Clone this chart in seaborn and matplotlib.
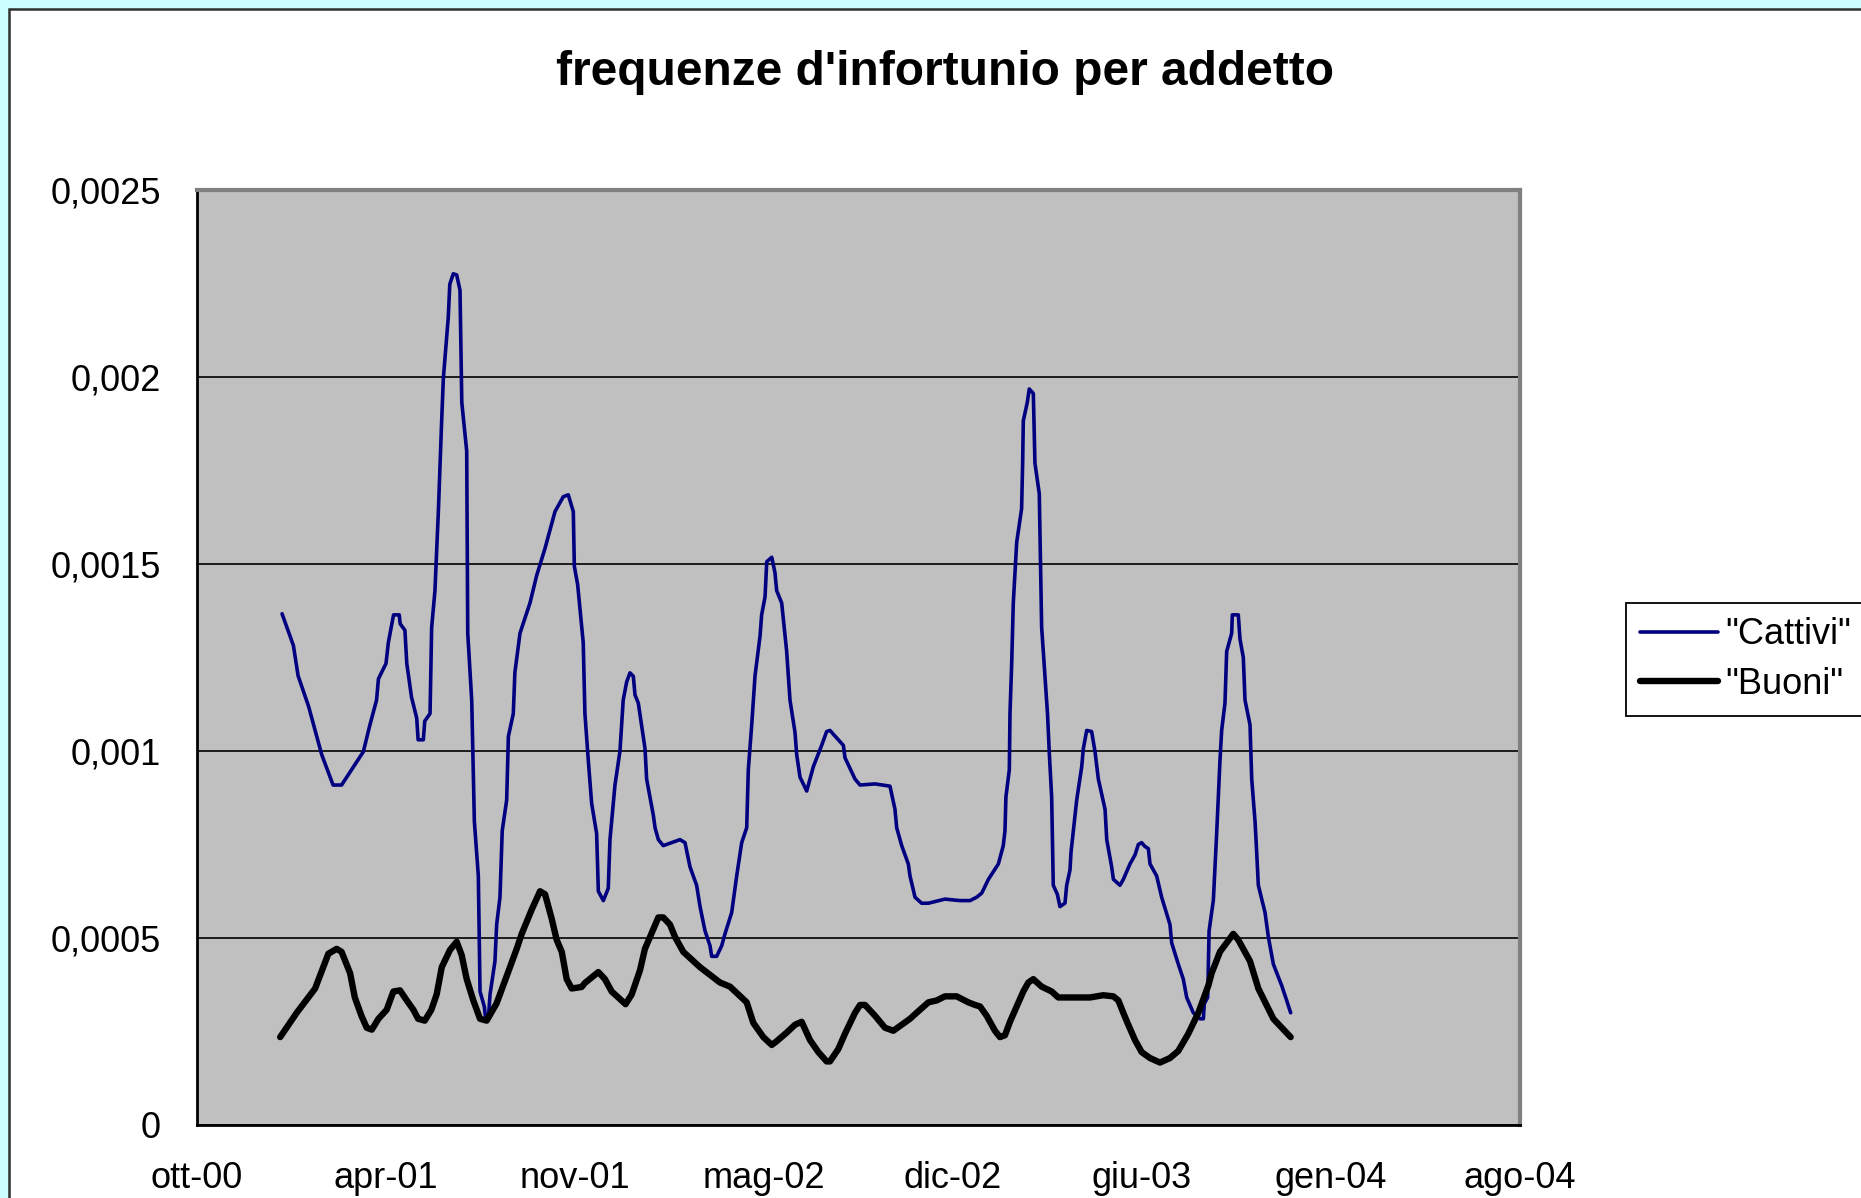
import numpy as np
import pandas as pd
import matplotlib
matplotlib.use("Agg")
import matplotlib.pyplot as plt
import matplotlib.dates as mdates
from matplotlib.patches import Rectangle
import seaborn as sns

# ---------------- data ----------------
titolo = "frequenze d'infortunio per addetto"
data_origine = "2000-10-01"          # left end of the date axis
serie_nomi = ['"Cattivi"', '"Buoni"']

# days after data_origine, and values
cattivi_giorni = [90, 102, 107, 118, 132, 144, 153, 176, 183, 190, 192, 200, 202.5, 208, 214, 215,
                  220, 222, 227, 232.5, 234, 239.5, 241, 246.6, 248.3, 251.8, 255.4, 258.9, 260.7,
                  265.9, 267.5, 271.2, 274.8, 278.3, 279.4, 280.2, 285.4, 286.5, 290.7, 293.5, 297.7,
                  299.5, 304, 305.5, 308.3, 310.1, 315.3, 317.1, 320.6, 323, 327.7, 329.5, 334.7,
                  336.4, 341.8, 352.4, 359.4, 368.3, 373.5, 378.8, 387.6, 392.9, 398.2, 399.3, 402.8,
                  408.7, 410.5, 414.1, 417.6, 422.9, 424.7, 430, 435.2, 437, 442.3, 447.6, 451,
                  454.7, 458.2, 461.7, 463.5, 467, 474.1, 475.8, 482.9, 484.7, 488.2, 493.4, 511.1,
                  516.4, 521.7, 528.7, 532.3, 537.6, 542.9, 544.6, 549.9, 555.2, 558.7, 565.8, 571.1,
                  576.4, 581.7, 583.4, 587, 590.5, 595.8, 597.5, 601.1, 602.9, 608.2, 611.6, 613.4,
                  618.7, 624, 627.5, 632.8, 634.6, 638.1, 645.2, 652.2, 661, 666.3, 669.8, 684,
                  685.7, 696.3, 701.6, 717.5, 733.3, 738.6, 740.4, 745.7, 752.7, 754.5, 759.8, 766.8,
                  773.9, 791.5, 807.4, 818, 825, 830.4, 837.5, 848, 853.2, 855, 856, 859.6, 860.3,
                  862.1, 863.8, 867.4, 872.6, 873.7, 874.4, 878.6, 880.7, 885, 886.7, 891.3, 893.8,
                  900, 902, 904.4, 906.1, 910.4, 913.2, 918.5, 920.3, 923.8, 924.9, 930.9, 936.2,
                  937.9, 941.5, 946.7, 950.3, 953.8, 960.9, 962.7, 967.9, 969.7, 976.7, 980.3, 987.3,
                  992.6, 996.1, 999.6, 1003, 1006.7, 1008.5, 1015.5, 1020.8, 1029.6, 1031.4, 1038.4,
                  1043.7, 1047.3, 1054.3, 1061.4, 1064.9, 1066, 1069.5, 1071, 1075.5, 1079, 1082.5,
                  1084.3, 1087.8, 1089.6, 1094.9, 1095.6, 1101.9, 1103.7, 1107.2, 1109, 1114.3,
                  1116.1, 1119.6, 1121, 1123.1, 1130.2, 1133.7, 1139, 1147.8, 1153.1, 1157.3]
cattivi_valori = [0.001367, 0.001282, 0.001201, 0.00112, 0.00099, 0.000909, 0.000909, 0.000998,
                  0.00107, 0.001136, 0.001193, 0.001234, 0.00129, 0.001364, 0.001364, 0.00134,
                  0.001323, 0.001234, 0.001144, 0.001088, 0.00103, 0.00103, 0.00108, 0.0011,
                  0.00133, 0.001429, 0.00164, 0.001883, 0.001997, 0.00216, 0.002248, 0.002276,
                  0.002273, 0.002232, 0.002062, 0.001932, 0.001802, 0.001315, 0.001136, 0.000812,
                  0.000666, 0.000357, 0.000317, 0.000284, 0.000284, 0.000349, 0.000438, 0.000536,
                  0.000609, 0.000787, 0.000869, 0.001039, 0.0011, 0.00121, 0.001315, 0.001396,
                  0.001469, 0.001542, 0.001591, 0.00164, 0.00168, 0.001685, 0.00164, 0.001494,
                  0.001445, 0.00129, 0.0011, 0.000974, 0.00086, 0.000779, 0.000625, 0.0006,
                  0.000633, 0.000763, 0.000909, 0.001, 0.001136, 0.001185, 0.001209, 0.0012,
                  0.00115, 0.001128, 0.001006, 0.000925, 0.000828, 0.000795, 0.000763, 0.000747,
                  0.000763, 0.000755, 0.00069, 0.000641, 0.000584, 0.000519, 0.000479, 0.000451,
                  0.000451, 0.000479, 0.000511, 0.000568, 0.000666, 0.000755, 0.000795, 0.00095,
                  0.00107, 0.001201, 0.001307, 0.001364, 0.001412, 0.001506, 0.001518, 0.001477,
                  0.001429, 0.001396, 0.001266, 0.001136, 0.00105, 0.00099, 0.00093, 0.000893,
                  0.000958, 0.001015, 0.001052, 0.001055, 0.001015, 0.000982, 0.000925, 0.000909,
                  0.000912, 0.000906, 0.000844, 0.000795, 0.000747, 0.000698, 0.000666, 0.000609,
                  0.000593, 0.000593, 0.000604, 0.0006, 0.0006, 0.000609, 0.00062, 0.000657,
                  0.000698, 0.000747, 0.000787, 0.000877, 0.00095, 0.0011, 0.001234, 0.001396,
                  0.001558, 0.001648, 0.00177, 0.001883, 0.001932, 0.001968, 0.001956, 0.00177,
                  0.001688, 0.001331, 0.0011, 0.00099, 0.000877, 0.000641, 0.000617, 0.000584,
                  0.000593, 0.000641, 0.000682, 0.00073, 0.000869, 0.000958, 0.001006, 0.001055,
                  0.001052, 0.000998, 0.000925, 0.000844, 0.000763, 0.00069, 0.000657, 0.000641,
                  0.000657, 0.000698, 0.000722, 0.00075, 0.000755, 0.000745, 0.000739, 0.000698,
                  0.000666, 0.000609, 0.000536, 0.000487, 0.00043, 0.00039, 0.000341, 0.0003,
                  0.000284, 0.000284, 0.000325, 0.000341, 0.000519, 0.000601, 0.000779, 0.000974,
                  0.001055, 0.001128, 0.001266, 0.001315, 0.001364, 0.001364, 0.001299, 0.00125,
                  0.001136, 0.00107, 0.000925, 0.000812, 0.000747, 0.000641, 0.000568, 0.000503,
                  0.00043, 0.000373, 0.000333, 0.0003]

buoni_giorni = [88, 105.5, 125, 139, 147.8, 153, 162, 167, 174, 179.6, 185, 192, 200.7, 207.8,
                214.8, 222, 229, 234, 241, 248, 253.6, 259, 267.7, 274.8, 280, 285.4, 292.4, 299.5,
                306.5, 317, 327.7, 338.3, 343.6, 354.2, 363, 368.3, 375.3, 380.6, 386, 391.2, 396.5,
                407, 410.6, 424.7, 431.7, 438.8, 445.8, 453.5, 460, 468.8, 474, 479.4, 488.2, 493.4,
                500.5, 505.8, 514.6, 532.3, 553.4, 564, 581.7, 588.7, 599.3, 608.2, 613.4, 624,
                632.8, 639.8, 648.7, 657.5, 666.3, 669.8, 678.6, 685.7, 696.3, 701.6, 706.9, 717.5,
                728, 736.9, 745.7, 754.5, 765, 774, 782.7, 791.5, 803.9, 816.2, 823.3, 828.6, 835.6,
                844.4, 849.7, 855, 860.3, 867.4, 874.4, 879.7, 885, 893.8, 904.4, 911.4, 923.8, 945,
                959, 969.7, 975, 980.2, 985.5, 992.6, 999.6, 1008.5, 1019, 1029.6, 1038.4, 1049,
                1059.6, 1070.2, 1073.7, 1082.5, 1096.6, 1101.9, 1114.3, 1123.1, 1139, 1157.3]
buoni_valori = [0.000235, 0.0003, 0.000365, 0.000458, 0.000471, 0.000463, 0.000406, 0.000341,
                0.000292, 0.00026, 0.000255, 0.000284, 0.000308, 0.000357, 0.00036, 0.000333,
                0.000308, 0.000284, 0.000279, 0.000308, 0.000349, 0.000422, 0.000468, 0.00049,
                0.000455, 0.00039, 0.000333, 0.000284, 0.000279, 0.000325, 0.000398, 0.000471,
                0.000511, 0.000576, 0.000625, 0.000617, 0.000552, 0.000495, 0.000463, 0.00039,
                0.000365, 0.000369, 0.00038, 0.000409, 0.00039, 0.000357, 0.000341, 0.000323,
                0.000349, 0.000414, 0.000471, 0.000503, 0.000555, 0.000555, 0.000536, 0.000503,
                0.000463, 0.000422, 0.000381, 0.00037, 0.000328, 0.000273, 0.000235, 0.000214,
                0.000224, 0.000247, 0.000268, 0.000276, 0.000227, 0.000195, 0.00017, 0.00017,
                0.000203, 0.000244, 0.0003, 0.000321, 0.000321, 0.000292, 0.00026, 0.000252,
                0.000268, 0.000284, 0.000308, 0.000328, 0.000333, 0.000344, 0.000344, 0.000328,
                0.000321, 0.000317, 0.000292, 0.000252, 0.000235, 0.00024, 0.000276, 0.000317,
                0.000357, 0.000381, 0.00039, 0.00037, 0.000357, 0.000341, 0.000341, 0.000341,
                0.000347, 0.000344, 0.000333, 0.0003, 0.000268, 0.000227, 0.000195, 0.000179,
                0.000167, 0.000179, 0.000198, 0.000244, 0.0003, 0.000373, 0.000406, 0.000463,
                0.000511, 0.000495, 0.000438, 0.000365, 0.000284, 0.000235]

x_tick_giorni = [0, 200, 400, 600, 800, 1000, 1200, 1400]
x_tick_etichette = ["ott-00", "apr-01", "nov-01", "mag-02", "dic-02", "giu-03", "gen-04", "ago-04"]
y_tick_valori = [0, 0.0005, 0.001, 0.0015, 0.002, 0.0025]
y_tick_etichette = ["0", "0,0005", "0,001", "0,0015", "0,002", "0,0025"]

# ---------------- table ----------------
origine = pd.Timestamp(data_origine)
df = pd.concat([
    pd.DataFrame({"data": origine + pd.to_timedelta(cattivi_giorni, unit="D"),
                  "valore": cattivi_valori, "serie": serie_nomi[0]}),
    pd.DataFrame({"data": origine + pd.to_timedelta(buoni_giorni, unit="D"),
                  "valore": buoni_valori, "serie": serie_nomi[1]}),
], ignore_index=True)

# ---------------- style ----------------
sns.set_style("white")
plt.rcParams["font.family"] = ["Liberation Sans", "DejaVu Sans"]
for k in ["text.color", "axes.labelcolor", "xtick.color", "ytick.color"]:
    plt.rcParams[k] = "black"

W, H = 1861, 1198
fig = plt.figure(figsize=(W / 100, H / 100), dpi=100, facecolor="#CCFFFF")
fig.patches.append(Rectangle((9 / W, -0.05), 1.1, 1.05 - 9 / H, transform=fig.transFigure,
                             facecolor="white", edgecolor="#303030", lw=1.8, zorder=-10))

ax = fig.add_axes([197 / W, 1 - 1125 / H, (1520 - 197) / W, (1125 - 190) / H])
ax.set_zorder(1)
ax.set_facecolor("#C0C0C0")

sns.lineplot(data=df, x="data", y="valore", hue="serie", size="serie",
             hue_order=serie_nomi, size_order=serie_nomi,
             palette={serie_nomi[0]: "#000080", serie_nomi[1]: "#000000"},
             sizes={serie_nomi[0]: 2.6, serie_nomi[1]: 4.6},
             estimator=None, sort=False, ax=ax, legend=True)

ax.set_xlim(origine, origine + pd.Timedelta(days=1400))
ax.set_xticks([mdates.date2num(origine + pd.Timedelta(days=d)) for d in x_tick_giorni])
ax.set_xticklabels(x_tick_etichette)
ax.set_ylim(0, 0.0025)
ax.set_yticks(y_tick_valori)
ax.set_yticklabels(y_tick_etichette)
ax.set_xlabel("")
ax.set_ylabel("")

ax.yaxis.grid(True, color="black", lw=1.2)
ax.xaxis.grid(False)
ax.set_axisbelow(True)

ax.tick_params(axis="both", direction="out", length=10, width=1.3, colors="black",
               labelsize=26)
ax.tick_params(axis="y", pad=16)
ax.tick_params(axis="x", pad=16)

for s in ["top", "right"]:
    ax.spines[s].set_color("#808080")
    ax.spines[s].set_linewidth(3)
for s in ["left", "bottom"]:
    ax.spines[s].set_color("#000000")
    ax.spines[s].set_linewidth(2)

handles, labels = ax.get_legend_handles_labels()
ax.get_legend().remove()
leg = fig.legend(handles, labels, loc="upper left", bbox_to_anchor=(1626 / W, 1 - 603 / H),
                 frameon=True, fontsize=26, handlelength=2.15, handletextpad=0.2,
                 borderpad=0.4, labelspacing=0.4, fancybox=False, framealpha=1,
                 edgecolor="black", borderaxespad=0)
leg.get_frame().set_linewidth(1.3)

fig.text(945 / W, 1 - 85 / H, titolo, ha="center", va="baseline", fontsize=34.5,
         fontweight="bold", color="black")

fig.savefig("out.png", dpi=100, facecolor=fig.get_facecolor())
